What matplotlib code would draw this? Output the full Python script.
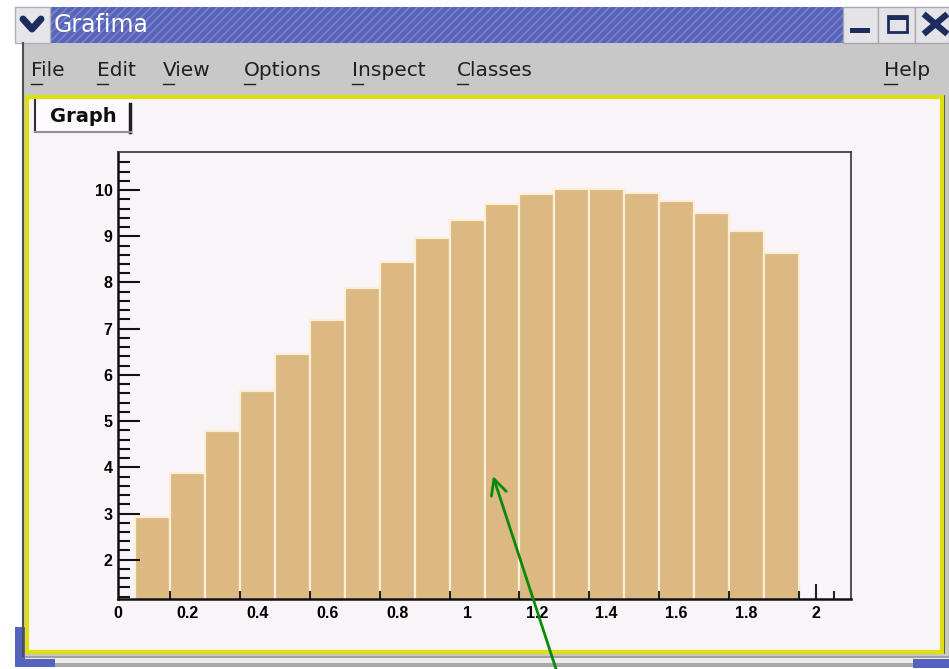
import matplotlib
matplotlib.use('Agg')
import matplotlib.pyplot as plt
from matplotlib.patches import Rectangle
from matplotlib.ticker import FixedLocator, NullFormatter

# histogram content
bin_centers = [0.1, 0.2, 0.3, 0.4, 0.5, 0.6, 0.7, 0.8, 0.9, 1.0,
               1.1, 1.2, 1.3, 1.4, 1.5, 1.6, 1.7, 1.8, 1.9]
bin_values = [2.92, 3.88, 4.79, 5.66, 6.45, 7.19, 7.88, 8.44, 8.96, 9.35,
              9.70, 9.91, 10.02, 10.02, 9.93, 9.76, 9.50, 9.11, 8.64]
bin_width = 0.1

x_label_pos = [0, 0.2, 0.4, 0.6, 0.8, 1.0, 1.2, 1.4, 1.6, 1.8, 2.0]
x_labels = ['0', '0.2', '0.4', '0.6', '0.8', '1', '1.2', '1.4', '1.6', '1.8', '2']
x_tick_pos = [0.15, 0.35, 0.55, 0.75, 0.95, 1.15, 1.35, 1.55, 1.75, 1.95, 2.05]
y_major = [2, 3, 4, 5, 6, 7, 8, 9, 10]
y_labels = ['2', '3', '4', '5', '6', '7', '8', '9', '10']

window_title = 'Grafima'
menu_items = ['File', 'Edit', 'View', 'Options', 'Inspect', 'Classes']
menu_x = [31, 97, 163, 244, 352, 457]
tab_name = 'Graph'

W, H = 949, 669
canvas_bg = '#f8f4f8'
bar_color = '#dcb882'
navy = '#1c2c5c'

fig = plt.figure(figsize=(W / 100, H / 100), dpi=100)
fig.patch.set_facecolor('white')

# --- window chrome (pixel coordinates) ---
bg = fig.add_axes([0, 0, 1, 1], zorder=0)
bg.set_xlim(0, W)
bg.set_ylim(H, 0)
bg.axis('off')

def box(x0, y0, x1, y1, **kw):
    bg.add_patch(Rectangle((x0, y0), x1 - x0, y1 - y0, **kw))

# window body and menu bar
box(22, 43, W, 656, facecolor='#c8c8c8', edgecolor='none')
bg.plot([23, 23], [43, 656], color='#505050', lw=1.5)
# title bar
plt.rcParams['hatch.linewidth'] = 1.2
box(50, 7, 843, 43, facecolor='#5864b8', edgecolor='#7884d0', hatch='////', lw=0)
box(15, 7, 50, 43, facecolor='#e6e6ea', edgecolor='#b0b0b8', lw=1)
bg.plot([23, 32, 41], [19, 29, 19], color=navy, lw=5, solid_capstyle='round')
bg.text(54, 25, window_title, color='white', fontsize=17, family='DejaVu Sans',
        va='center', ha='left')
for x0, x1 in [(843, 878), (878, 915), (915, W)]:
    box(x0, 7, x1, 43, facecolor='#e4e4e8', edgecolor='#a8a8b0', lw=1)
box(850, 28, 870, 33, facecolor=navy, edgecolor='none')
box(888, 16, 907, 32, facecolor='none', edgecolor=navy, lw=2)
box(888, 16, 907, 20, facecolor=navy, edgecolor='none')
bg.plot([926, 945], [16, 32], color=navy, lw=4.5)
bg.plot([926, 945], [32, 16], color=navy, lw=4.5)

# menu entries with underlined accelerator
for name, x in zip(menu_items, menu_x):
    bg.text(x, 71, name, fontsize=14.5, family='DejaVu Sans', color='#202020',
            va='center', ha='left')
    bg.plot([x, x + 11], [84, 84], color='#202020', lw=1)
bg.text(884, 71, 'Help', fontsize=14.5, family='DejaVu Sans', color='#202020',
        va='center', ha='left')
bg.plot([884, 897], [84, 84], color='#202020', lw=1)

# canvas frame
box(25, 95, 945, 654, facecolor='#5a5a30', edgecolor='none')
box(27, 97, 942, 652, facecolor=canvas_bg, edgecolor='#dede10', lw=3)

# tab label
box(35, 100, 131, 132, facecolor='#fdfbfd', edgecolor='none')
bg.plot([35, 35], [100, 132], color='#303030', lw=1.5)
bg.plot([130, 130], [104, 132], color='#202020', lw=2.5)
bg.plot([35, 131], [132, 132], color='#909090', lw=1.5)
bg.text(83, 116, tab_name, fontsize=14, family='DejaVu Sans', weight='bold',
        color='#101010', va='center', ha='center')

# bottom strip and blue corners
box(22, 656, W, 658, facecolor='#a0a0a0', edgecolor='none')
box(22, 658, W, 663, facecolor='#ececec', edgecolor='none')
box(22, 663, W, 667, facecolor='#a8a8a8', edgecolor='none')
box(15, 627, 25, 667, facecolor='#5462c0', edgecolor='none')
box(15, 659, 55, 667, facecolor='#5462c0', edgecolor='none')
box(913, 659, W, 668, facecolor='#5462c0', edgecolor='none')

# --- the histogram ---
ax = fig.add_axes([118 / W, 1 - 599 / H, 733 / W, 447.3 / H], zorder=1)
ax.set_facecolor(canvas_bg)
ax.bar(bin_centers, bin_values, width=bin_width, color=bar_color,
       edgecolor='#fdeed6', linewidth=1.6)
ax.set_xlim(0, 2.1)
ax.set_ylim(1.15, 10.83)

for side in ['left', 'bottom']:
    ax.spines[side].set_linewidth(1.8)
    ax.spines[side].set_color('#111111')
for side in ['top', 'right']:
    ax.spines[side].set_linewidth(1.2)
    ax.spines[side].set_color('#333333')

lab = dict(family='Liberation Sans', weight='bold', size=11.5)

# x: ticks sit on every second bin edge, labels on round values
ax.xaxis.set_major_locator(FixedLocator(x_tick_pos))
ax.xaxis.set_major_formatter(NullFormatter())
ax.tick_params(axis='x', which='major', direction='in', length=6, width=1.5,
               color='#222222')
ax.set_xticks(x_label_pos, x_labels, minor=True)
ax.tick_params(axis='x', which='minor', length=0, pad=5)
for t in ax.get_xticklabels(minor=True):
    t.set_fontproperties(matplotlib.font_manager.FontProperties(**lab))
ax.axvline(2.0, ymin=0, ymax=14 / 447.3, color='#222222', lw=1.5)

# y: inward ticks
ax.set_yticks(y_major, y_labels)
ax.yaxis.set_minor_locator(FixedLocator([1.2 + 0.2 * i for i in range(48)]))
ax.tick_params(axis='y', which='major', direction='in', length=16, width=1.5,
               color='#111111', pad=4)
ax.tick_params(axis='y', which='minor', direction='in', length=8.5, width=1.5,
               color='#111111')
for t in ax.get_yticklabels():
    t.set_fontproperties(matplotlib.font_manager.FontProperties(**lab))

# --- annotation arrow on top ---
top = fig.add_axes([0, 0, 1, 1], zorder=2)
top.set_xlim(0, W)
top.set_ylim(H, 0)
top.axis('off')
top.patch.set_alpha(0)
top.annotate('', xy=(493, 476), xytext=(558, 675),
             arrowprops=dict(arrowstyle='->', color='#0a8a0a', lw=2,
                             mutation_scale=28, shrinkA=0, shrinkB=0))

fig.savefig('out.png', dpi=100)
